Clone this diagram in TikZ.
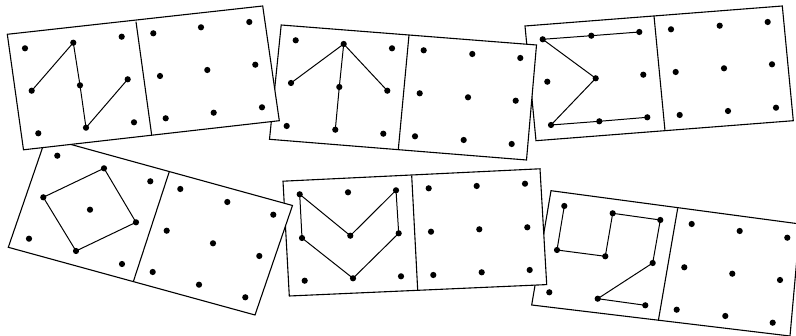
\documentclass[tikz,border=0pt]{standalone}
\begin{document}
\begin{tikzpicture}[x=1pt,y=-1pt,
  card/.style={draw=black,fill=white,line width=1.1pt,line join=miter},
  divider/.style={draw=black,line width=1.1pt},
  link/.style={draw=black,line width=1pt,line cap=round,line join=round},
  dotmark/.style={fill=black}]
\useasboundingbox (0,0) rectangle (796,336);
\clip (0,0) rectangle (796,336);
\fill[white] (0,0) rectangle (796,336);

% ---------- card 6 ----------
\coordinate (k6a) at (551,190.7); \coordinate (k6b) at (800,224);
\coordinate (k6c) at (790,336); \coordinate (k6d) at (531.7,305);
\coordinate (k6t) at (677.7,208.3); \coordinate (k6u) at (658.3,320.8);
\draw[card] (k6a) -- (k6b) -- (k6c) -- (k6d) -- cycle;
\draw[divider] (k6t) -- (k6u);
\foreach \n/\x/\y in {1/564.3/206,2/612.7/213.3,3/660.3/220,4/557/250,5/605.3/256.3,6/652.7/263,7/549.3/292.3,8/597.7/298.7,9/645.3/305.3}
  \coordinate (f6L\n) at (\x,\y);
\foreach \n/\x/\y in {1/691.7/224,2/739.7/231,3/787.3/237.7,4/684.3/267.3,5/732.3/273.7,6/780/280,7/676.7/309.7,8/725.3/316,9/772.7/322.7}
  \coordinate (f6R\n) at (\x,\y);
\draw[link] (f6L1) -- (f6L4) -- (f6L5) -- (f6L2) -- (f6L3) -- (f6L6) -- (f6L8) -- (f6L9);
\foreach \n in {1,...,9} {\fill[dotmark] (f6L\n) circle (3.1pt); \fill[dotmark] (f6R\n) circle (3.1pt);}

% ---------- card 5 ----------
\coordinate (k5a) at (283,181.2); \coordinate (k5b) at (540,168.8);
\coordinate (k5c) at (546.7,284.6); \coordinate (k5d) at (289.3,296);
\coordinate (k5t) at (411.7,175.7); \coordinate (k5u) at (417.7,290.2);
\draw[card] (k5a) -- (k5b) -- (k5c) -- (k5d) -- cycle;
\draw[divider] (k5t) -- (k5u);
\foreach \n/\x/\y in {1/299.7/194.3,2/348/192.3,3/396/190.3,4/302/238,5/350.3/235.7,6/398.7/233.3,7/304.7/280.7,8/353/278.3,9/401/276.3}
  \coordinate (f5L\n) at (\x,\y);
\foreach \n/\x/\y in {1/428.7/188.3,2/476.7/186,3/525/183.7,4/431/231.7,5/479.3/229.3,6/527.3/227.3,7/433.3/275,8/481.7/272.3,9/529.7/270}
  \coordinate (f5R\n) at (\x,\y);
\draw[link] (f5L1) -- (f5L5) -- (f5L3) -- (f5L6) -- (f5L8) -- (f5L4) -- cycle;
\foreach \n in {1,...,9} {\fill[dotmark] (f5L\n) circle (3.1pt); \fill[dotmark] (f5R\n) circle (3.1pt);}

% ---------- card 4 ----------
\coordinate (k4a) at (46,137.6); \coordinate (k4b) at (292.5,205.5);
\coordinate (k4c) at (255,315); \coordinate (k4d) at (8.3,247.3);
\coordinate (k4t) at (169.3,171.6); \coordinate (k4u) at (133.3,281.7);
\draw[card] (k4a) -- (k4b) -- (k4c) -- (k4d) -- cycle;
\draw[divider] (k4t) -- (k4u);
\foreach \n/\x/\y in {1/57.3/155.7,2/104/168.3,3/150.3/181.3,4/43.3/197.3,5/90/209.7,6/136/222.3,7/29/238.7,8/76/251,9/122/264}
  \coordinate (f4L\n) at (\x,\y);
\foreach \n/\x/\y in {1/180.3/189,2/227.3/202,3/273.3/214.7,4/166.7/230.7,5/213/243.3,6/259.3/256,7/152.7/272,8/199/284.7,9/245.3/297.3}
  \coordinate (f4R\n) at (\x,\y);
\draw[link] (f4L4) -- (f4L2) -- (f4L6) -- (f4L8) -- cycle;
\foreach \n in {1,...,9} {\fill[dotmark] (f4L\n) circle (3.1pt); \fill[dotmark] (f4R\n) circle (3.1pt);}

% ---------- card 3 ----------
\coordinate (k3a) at (525,26); \coordinate (k3b) at (782.3,6);
\coordinate (k3c) at (793.3,120.7); \coordinate (k3d) at (536,140.7);
\coordinate (k3t) at (654,16); \coordinate (k3u) at (665,130.7);
\draw[card] (k3a) -- (k3b) -- (k3c) -- (k3d) -- cycle;
\draw[divider] (k3t) -- (k3u);
\foreach \n/\x/\y in {1/542.7/39.3,2/591.3/35.7,3/639.3/32,4/547.3/81.7,5/595.7/78.3,6/643.3/74.7,7/551/125,8/599.3/121.3,9/647.3/117.3}
  \coordinate (f3L\n) at (\x,\y);
\foreach \n/\x/\y in {1/671/29.3,2/719.7/25.7,3/767.7/22,4/675.7/72,5/724/68.3,6/772/64.3,7/679.7/115,8/728/111,9/776/107.7}
  \coordinate (f3R\n) at (\x,\y);
\draw[link] (f3L3) -- (f3L2) -- (f3L1) -- (f3L5) -- (f3L7) -- (f3L8) -- (f3L9);
\foreach \n in {1,...,9} {\fill[dotmark] (f3L\n) circle (3.1pt); \fill[dotmark] (f3R\n) circle (3.1pt);}

% ---------- card 2 ----------
\coordinate (k2a) at (281.2,25); \coordinate (k2b) at (536.5,45);
\coordinate (k2c) at (526.5,160); \coordinate (k2d) at (269.5,139.3);
\coordinate (k2t) at (409,35); \coordinate (k2u) at (398.3,149.6);
\draw[card] (k2a) -- (k2b) -- (k2c) -- (k2d) -- cycle;
\draw[divider] (k2t) -- (k2u);
\foreach \n/\x/\y in {1/295.7/40.3,2/343.7/44,3/392/48.3,4/291/83,5/339.3/87,6/387.3/90.7,7/286.7/126,8/335.3/129.7,9/383.3/133.7}
  \coordinate (f2L\n) at (\x,\y);
\foreach \n/\x/\y in {1/423.7/50.3,2/472.3/54,3/520.3/58,4/419.7/93.3,5/468/97.3,6/515.7/100.7,7/415/136.3,8/463.7/140,9/511.7/144}
  \coordinate (f2R\n) at (\x,\y);
\draw[link] (f2L4) -- (f2L2) -- (f2L6);
\draw[link] (f2L2) -- (f2L5) -- (f2L8);
\foreach \n in {1,...,9} {\fill[dotmark] (f2L\n) circle (3.1pt); \fill[dotmark] (f2R\n) circle (3.1pt);}

% ---------- card 1 ----------
\coordinate (k1a) at (7.3,34.3); \coordinate (k1b) at (262.7,6);
\coordinate (k1c) at (279.3,120.7); \coordinate (k1d) at (23.5,149.8);
\coordinate (k1t) at (136,21.7); \coordinate (k1u) at (151.7,135.2);
\draw[card] (k1a) -- (k1b) -- (k1c) -- (k1d) -- cycle;
\draw[divider] (k1t) -- (k1u);
\foreach \n/\x/\y in {1/25/48.3,2/73.3/42.7,3/121.7/36.7,4/31.7/90.7,5/80/85.3,6/127.7/79.3,7/38.3/133.3,8/86/127.7,9/134/122.3}
  \coordinate (f1L\n) at (\x,\y);
\foreach \n/\x/\y in {1/153.3/33.3,2/201/27.3,3/249.3/22,4/160/76,5/207.3/70,6/255.3/64.7,7/165.7/118.3,8/213.7/112.7,9/262/107.3}
  \coordinate (f1R\n) at (\x,\y);
\draw[link] (f1L4) -- (f1L2) -- (f1L5) -- (f1L8) -- (f1L6);
\foreach \n in {1,...,9} {\fill[dotmark] (f1L\n) circle (3.1pt); \fill[dotmark] (f1R\n) circle (3.1pt);}
\end{tikzpicture}
\end{document}
